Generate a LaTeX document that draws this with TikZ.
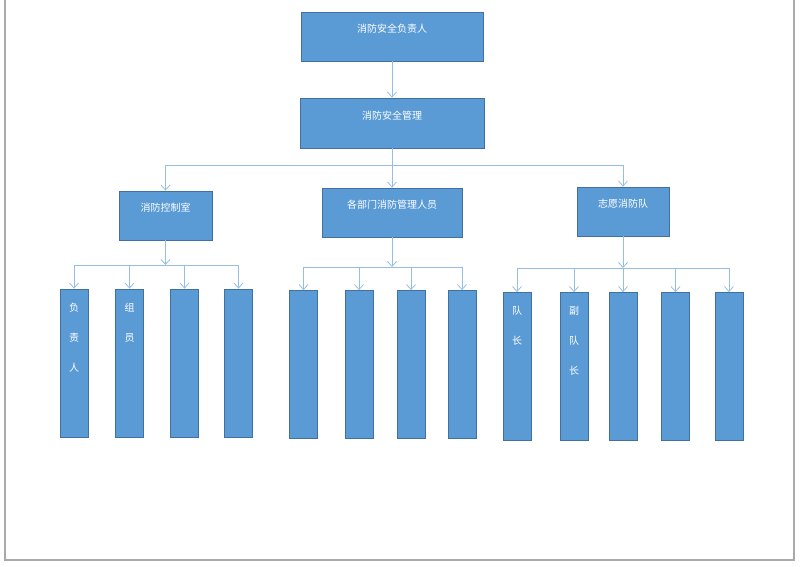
\documentclass[tikz,border=0pt]{standalone}
\usepackage{fontspec}
\newfontfamily\cjk{Noto Sans CJK SC}
\usetikzlibrary{arrows.meta}
\definecolor{boxblue}{RGB}{91,155,213}
\definecolor{boxedge}{RGB}{65,113,156}
\definecolor{linkblue}{RGB}{150,190,228}
\definecolor{pagegray}{RGB}{170,170,170}
\tikzset{
  box/.style={draw=boxedge, fill=boxblue, text=white, font=\cjk\fontsize{10}{12}\selectfont,
    inner sep=0pt, text height=8pt, text depth=16pt, line width=0.8pt},
  bar/.style={draw=boxedge, fill=boxblue, minimum width=28pt, minimum height=148pt,
    inner sep=0pt, line width=0.8pt},
  bartext/.style={text=white, font=\cjk\fontsize{10}{30}\selectfont, align=center,
    anchor=north, inner sep=0pt},
  link/.style={draw=linkblue, line width=0.8pt},
  tip/.style={-{Straight Barb[length=5pt,width=9pt,line width=0.8pt]}}
}
\begin{document}
\begin{tikzpicture}[x=1pt, y=-1pt]
  \useasboundingbox (0,0) rectangle (800,566);
  % page edge
  \draw[pagegray, line width=1.6pt] (5,0) -- (5,560) -- (794,560) -- (794,0);

  % 1. upper levels
  \node[box, minimum width=182pt, minimum height=49pt] (head) at (392,36.5) {消防安全负责人};
  \node[box, minimum width=184pt, minimum height=50pt] (mgmt) at (392,123) {消防安全管理};
  \node[box, minimum width=93pt, minimum height=49pt] (ctrl) at (165.5,215.5) {消防控制室};
  \node[box, minimum width=140pt, minimum height=49pt] (dept) at (392,212.5) {各部门消防管理人员};
  \node[box, minimum width=92pt, minimum height=49pt] (team) at (623,211.5) {志愿消防队};

  \draw[link, tip] (head) -- (mgmt);
  \coordinate (split) at (392,165);
  \draw[link] (ctrl |- split) -- (team |- split);
  \draw[link, tip] (mgmt) -- (dept);
  \draw[link, tip] (ctrl |- split) -- (ctrl);
  \draw[link, tip] (team |- split) -- (team);

  % 2. bars under 消防控制室
  \foreach \i/\x in {1/74, 2/129.5, 3/184.5, 4/238.5}
    \node[bar] (c\i) at (\x,363) {};
  \coordinate (csplit) at (165.5,265);
  \draw[link] (c1 |- csplit) -- (c4 |- csplit);
  \draw[link, tip] (ctrl) -- (csplit);
  \foreach \i in {1,...,4}
    \draw[link, tip] (c\i |- csplit) -- (c\i);
  \node[bartext] (c1txt) at ([yshift=-14pt]c1.north) {负\\责\\人};
  \node[bartext] (c2txt) at ([yshift=-14pt]c2.north) {组\\员};

  % 3. bars under 各部门消防管理人员
  \foreach \i/\x in {1/303.5, 2/359, 3/411, 4/462}
    \node[bar] (d\i) at (\x,364.5) {};
  \coordinate (dsplit) at (392,267);
  \draw[link] (d1 |- dsplit) -- (d4 |- dsplit);
  \draw[link, tip] (dept) -- (dsplit);
  \foreach \i in {1,...,4}
    \draw[link, tip] (d\i |- dsplit) -- (d\i);

  % 4. bars under 志愿消防队
  \foreach \i/\x in {1/517, 2/574, 3/623, 4/675.5, 5/729}
    \node[bar] (t\i) at (\x,366.5) {};
  \coordinate (tsplit) at (623,268);
  \draw[link] (t1 |- tsplit) -- (t5 |- tsplit);
  \draw[link, tip] (team) -- (tsplit);
  \foreach \i in {1,...,5}
    \draw[link, tip] (t\i |- tsplit) -- (t\i);
  \node[bartext] (t1txt) at ([yshift=-14pt]t1.north) {队\\长};
  \node[bartext] (t2txt) at ([yshift=-14pt]t2.north) {副\\队\\长};
\end{tikzpicture}
\end{document}
